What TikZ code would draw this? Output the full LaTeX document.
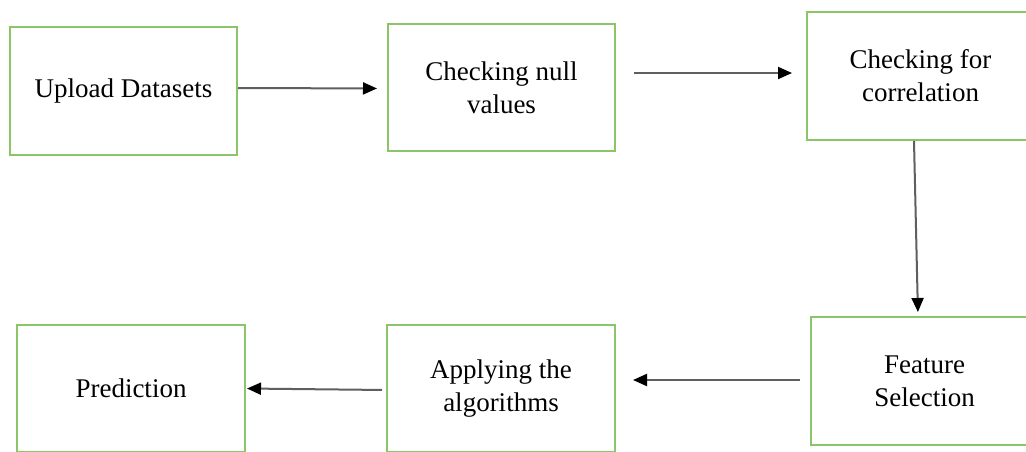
\documentclass[tikz,border=0pt]{standalone}
\usepackage{fontspec}
\setmainfont{Liberation Serif}
\usetikzlibrary{arrows.meta}
\definecolor{boxgreen}{RGB}{140,196,104}
\definecolor{linegray}{RGB}{95,95,95}
\tikzset{
  stepbox/.style={draw=boxgreen, line width=2pt, fill=white, minimum width=227pt,
    minimum height=128pt, inner sep=0pt, align=center,
    font=\fontsize{27}{33}\selectfont},
  flow/.style={draw=linegray, line width=2pt,
    -{Triangle[length=14pt,width=12pt,color=black]}}
}
\begin{document}
\begin{tikzpicture}[x=1pt,y=-1pt]
\useasboundingbox (0,0) rectangle (1026,451);
\fill[white] (0,0) rectangle (1026,451);
\clip (0,0) rectangle (1026,451);
\node[stepbox] (b1) at (123.5,91) {Upload Datasets};
\node[stepbox, minimum height=127pt] (b2) at (501.5,87.5) {Checking null\\values};
\node[stepbox] (b3) at (920.5,76) {Checking for\\correlation};
\node[stepbox] (b4) at (924.5,381) {Feature\\Selection};
\node[stepbox, minimum width=228pt, minimum height=127pt] (b5) at (501,388.5) {Applying the\\algorithms};
\node[stepbox, minimum width=228pt, minimum height=127pt] (b6) at (131,388.5) {Prediction};
\draw[flow, shorten >=10pt] ([yshift=3pt]b1.east) -- ([yshift=-1pt]b2.west);
\draw[flow, shorten <=18pt, shorten >=14pt] ([yshift=14.5pt]b2.east) -- ([yshift=3pt]b3.west);
\draw[flow, shorten >=4pt] ([xshift=-6.5pt]b3.south) -- ([xshift=-6.5pt]b4.north);
\draw[flow, shorten <=10pt, shorten >=17pt] ([yshift=1pt]b4.west) -- ([yshift=8.5pt]b5.east);
\draw[flow, shorten <=4pt, shorten >=1pt] ([yshift=-1.5pt]b5.west) -- (b6.east);
\end{tikzpicture}
\end{document}
